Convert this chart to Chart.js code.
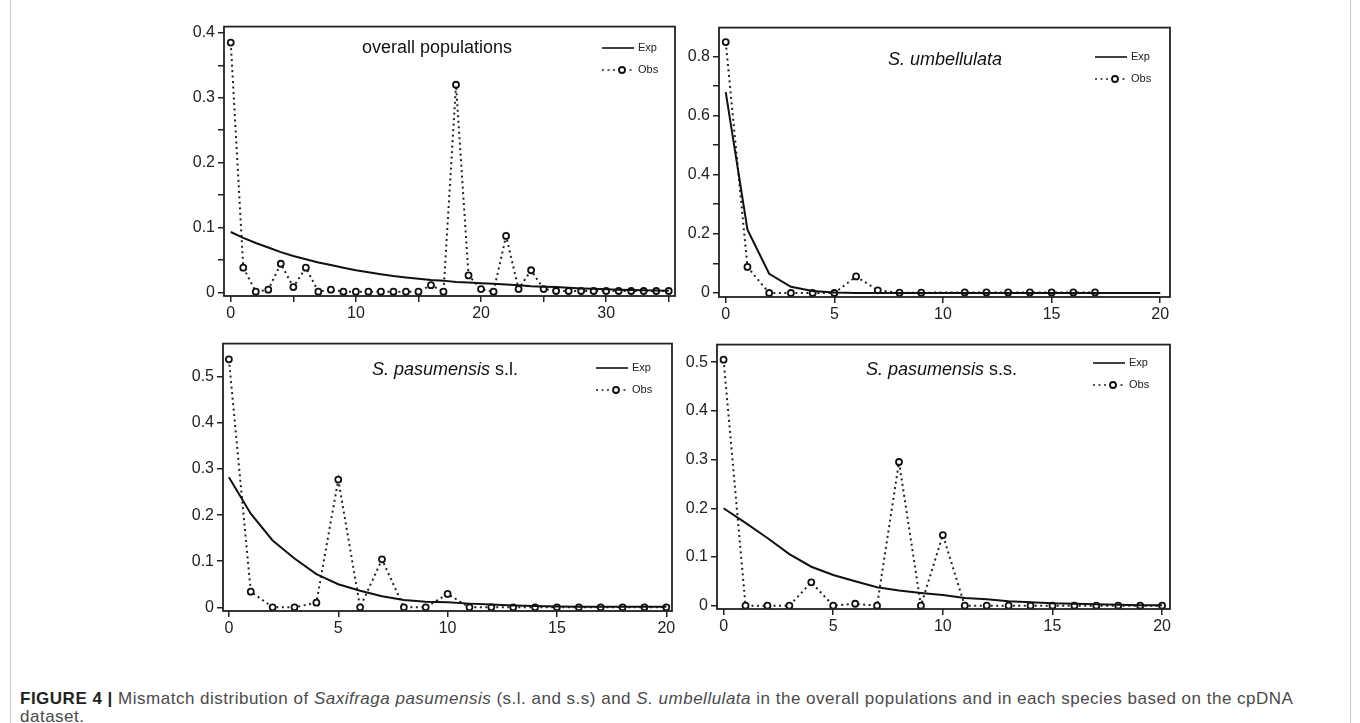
<!DOCTYPE html>
<html>
<head>
<meta charset="utf-8">
<title>Mismatch distribution</title>
<script src="https://cdn.jsdelivr.net/npm/chart.js@4.4.1/dist/chart.umd.min.js"></script>
<style>
  body { margin: 0; background: #fff; }
  #page {
    position: relative; width: 1360px; height: 723px; overflow: hidden;
    font-family: "Liberation Sans", Arial, sans-serif;
  }
  .panel { position: absolute; }
  #frame {
    position: absolute; left: 10px; top: -2px; width: 1339px; height: 740px;
    border-left: 1px solid #c8c8c8; border-right: 1px solid #c8c8c8;
  }
  #caption {
    position: absolute; left: 20px; top: 690px; white-space: nowrap;
    font-size: 17px; letter-spacing: 0.5px; line-height: 18px; color: #4a4a4a;
  }
  #caption b { color: #222; }
</style>
</head>
<body>
<div id="page">
  <div id="frame"></div>
  <canvas id="overall" class="panel"></canvas>
  <canvas id="umbellulata" class="panel"></canvas>
  <canvas id="pasumSl" class="panel"></canvas>
  <canvas id="pasumSs" class="panel"></canvas>
  <div id="caption"><b>FIGURE 4 |</b> Mismatch distribution of <i>Saxifraga pasumensis</i> (s.l. and s.s) and <i>S. umbellulata</i> in the overall populations and in each species based on the cpDNA<br>dataset.</div>
</div>
<script>
// values, index = number of pairwise differences
const overallExp = [0.093, 0.084, 0.076, 0.069, 0.062, 0.056, 0.051, 0.046, 0.042, 0.038,
  0.034, 0.031, 0.028, 0.025, 0.023, 0.021, 0.019, 0.018, 0.016, 0.015,
  0.014, 0.013, 0.012, 0.011, 0.0095, 0.0087, 0.008, 0.007, 0.006, 0.0053,
  0.0046, 0.004, 0.0036, 0.0032, 0.0028, 0.0025];
const overallObs = [0.385, 0.038, 0.001, 0.004, 0.044, 0.008, 0.038, 0.001, 0.004, 0.001,
  0.001, 0.001, 0.001, 0.001, 0.001, 0.001, 0.011, 0.001, 0.320, 0.026,
  0.005, 0.001, 0.087, 0.005, 0.034, 0.005, 0.002, 0.002, 0.002, 0.002,
  0.002, 0.002, 0.002, 0.002, 0.002, 0.002];

const umbellulataExp = [0.679, 0.214, 0.065, 0.021, 0.007, 0.002, 0, 0, 0, 0,
  0, 0, 0, 0, 0, 0, 0, 0, 0, 0, 0];
const umbellulataObs = [0.848, 0.088, 0, 0, 0, 0, 0.056, 0.009, 0.001, 0.001,
  null, 0.002, 0.002, 0.002, 0.002, 0.002, 0.002, 0.002];

const pasumSlExp = [0.282, 0.203, 0.145, 0.106, 0.072, 0.050, 0.036, 0.024, 0.016, 0.012,
  0.011, 0.008, 0.006, 0.004, 0.003, 0.002, 0.001, 0.001, 0.001, 0.001, 0.001];
const pasumSlObs = [0.538, 0.034, 0, 0, 0.010, 0.277, 0, 0.104, 0, 0,
  0.029, 0, 0, 0, 0, 0, 0, 0, 0, 0, 0];

const pasumSsExp = [0.200, 0.170, 0.139, 0.106, 0.080, 0.063, 0.050, 0.038, 0.031, 0.026,
  0.022, 0.016, 0.013, 0.009, 0.007, 0.005, 0.004, 0.003, 0.002, 0.001, 0.001];
const pasumSsObs = [0.505, 0, 0, 0, 0.048, 0, 0.004, 0, 0.295, 0,
  0.145, 0, 0, 0, 0, 0, 0, 0, 0, 0, 0];

// tick values and labels
const overallXTicks = [0, 5, 10, 15, 20, 25, 30, 35];
const overallXLabels = ['0', '', '10', '', '20', '', '30', ''];
const overallYTicks = [0, 0.05, 0.1, 0.15, 0.2, 0.25, 0.3, 0.35, 0.4];
const overallYLabels = ['0', '', '0.1', '', '0.2', '', '0.3', '', '0.4'];

const twentyXTicks = [0, 5, 10, 15, 20];
const twentyXLabels = ['0', '5', '10', '15', '20'];

const umbellulataYTicks = [0, 0.1, 0.2, 0.3, 0.4, 0.5, 0.6, 0.7, 0.8];
const umbellulataYLabels = ['0', '', '0.2', '', '0.4', '', '0.6', '', '0.8'];

const pasumYTicks = [0, 0.1, 0.2, 0.3, 0.4, 0.5];
const pasumYLabels = ['0', '0.1', '0.2', '0.3', '0.4', '0.5'];

const FONT = '"Liberation Sans", Arial, sans-serif';
Chart.defaults.font.family = FONT;
Chart.defaults.color = '#222';

const Y_AXIS_W = 54, X_AXIS_H = 32, PAD_TOP = 12, PAD_RIGHT = 14;

// box around the plot area, in-plot title and the small legend
const panelDecor = {
  id: 'panelDecor',
  afterDraw(chart, args, opts) {
    const ctx = chart.ctx;
    const a = chart.chartArea;
    ctx.save();
    ctx.strokeStyle = '#222';
    ctx.lineWidth = 1.8;
    ctx.strokeRect(a.left, a.top, a.right - a.left, a.bottom - a.top);

    // title
    ctx.fillStyle = '#111';
    ctx.textBaseline = 'alphabetic';
    ctx.textAlign = 'left';
    let tx = opts.titleX;
    opts.title.forEach(part => {
      ctx.font = (part.italic ? 'italic ' : '') + '18px ' + FONT;
      ctx.fillText(part.text, tx, opts.titleY);
      tx += ctx.measureText(part.text).width;
    });

    // legend
    const ds = chart.data.datasets;
    const lx = opts.legendX, ly = opts.legendY;
    ctx.font = '11px ' + FONT;
    ctx.textBaseline = 'middle';
    ds.forEach((d, i) => {
      const y = ly + i * 22;
      ctx.strokeStyle = d.borderColor;
      ctx.lineWidth = 1.6;
      ctx.setLineDash(d.borderDash || []);
      ctx.beginPath();
      ctx.moveTo(lx, y);
      ctx.lineTo(lx + 32, y);
      ctx.stroke();
      ctx.setLineDash([]);
      if (d.pointRadius > 0) {
        ctx.beginPath();
        ctx.arc(lx + 20, y, d.pointRadius, 0, Math.PI * 2);
        ctx.fillStyle = d.pointBackgroundColor;
        ctx.fill();
        ctx.lineWidth = d.pointBorderWidth;
        ctx.strokeStyle = d.pointBorderColor;
        ctx.stroke();
      }
      ctx.fillStyle = '#222';
      ctx.fillText(d.label, lx + 36, y);
    });
    ctx.restore();
  }
};

function axis(min, max, ticks, labels, isX) {
  return {
    type: 'linear',
    min: min,
    max: max,
    afterBuildTicks: s => { s.ticks = ticks.map(v => ({ value: v })); },
    afterFit: s => { if (isX) s.height = X_AXIS_H; else s.width = Y_AXIS_W; },
    grid: { display: true, drawOnChartArea: false, drawTicks: true, tickLength: 6, color: '#222', lineWidth: 1.5 },
    border: { display: false },
    ticks: {
      font: { size: 16 },
      color: '#222',
      padding: isX ? 2 : 3,
      autoSkip: false,
      maxRotation: 0,
      callback: (v, i) => labels[i]
    }
  };
}

function makePanel(id, p) {
  const canvas = document.getElementById(id);
  const w = p.right - p.left + Y_AXIS_W + PAD_RIGHT;
  const h = p.bottom - p.top + PAD_TOP + X_AXIS_H;
  const cx = p.left - Y_AXIS_W, cy = p.top - PAD_TOP;
  canvas.width = w; canvas.height = h;
  canvas.style.width = w + 'px'; canvas.style.height = h + 'px';
  canvas.style.left = cx + 'px'; canvas.style.top = cy + 'px';

  new Chart(canvas, {
    type: 'line',
    data: {
      datasets: [{
        label: 'Exp',
        data: p.exp.map((v, i) => ({ x: i, y: v })),
        borderColor: '#111',
        borderWidth: 2,
        pointRadius: 0,
        tension: 0
      }, {
        label: 'Obs',
        data: p.obs.map((v, i) => ({ x: i, y: v })),
        borderColor: '#222',
        borderWidth: 2,
        borderDash: [2, 3.5],
        pointRadius: 3,
        pointBorderWidth: 1.8,
        pointBackgroundColor: '#fff',
        pointBorderColor: '#111',
        spanGaps: true,
        tension: 0
      }]
    },
    options: {
      responsive: false,
      animation: false,
      layout: { padding: { top: PAD_TOP, right: PAD_RIGHT, left: 0, bottom: 0 } },
      plugins: {
        legend: { display: false },
        tooltip: { enabled: false },
        panelDecor: {
          title: p.title,
          titleX: p.titleX - cx, titleY: p.titleY - cy,
          legendX: p.legendX - cx, legendY: p.legendY - cy
        }
      },
      scales: {
        x: axis(p.xMin, p.xMax, p.xTicks, p.xLabels, true),
        y: axis(p.yMin, p.yMax, p.yTicks, p.yLabels, false)
      }
    },
    plugins: [panelDecor]
  });
}

makePanel('overall', {
  left: 224, top: 26, right: 675, bottom: 296,
  xMin: -0.54, xMax: 35.5, yMin: -0.0057, yMax: 0.4097,
  xTicks: overallXTicks, xLabels: overallXLabels,
  yTicks: overallYTicks, yLabels: overallYLabels,
  exp: overallExp, obs: overallObs,
  title: [{ text: 'overall populations' }], titleX: 362, titleY: 53,
  legendX: 602, legendY: 48
});

makePanel('umbellulata', {
  left: 719, top: 27, right: 1170, bottom: 297,
  xMin: -0.31, xMax: 20.45, yMin: -0.0135, yMax: 0.897,
  xTicks: twentyXTicks, xLabels: twentyXLabels,
  yTicks: umbellulataYTicks, yLabels: umbellulataYLabels,
  exp: umbellulataExp, obs: umbellulataObs,
  title: [{ text: 'S. umbellulata', italic: true }], titleX: 888, titleY: 65,
  legendX: 1095, legendY: 57
});

makePanel('pasumSl', {
  left: 223, top: 343, right: 672, bottom: 611,
  xMin: -0.27, xMax: 20.26, yMin: -0.008, yMax: 0.572,
  xTicks: twentyXTicks, xLabels: twentyXLabels,
  yTicks: pasumYTicks, yLabels: pasumYLabels,
  exp: pasumSlExp, obs: pasumSlObs,
  title: [{ text: 'S. pasumensis', italic: true }, { text: ' s.l.' }], titleX: 372, titleY: 375,
  legendX: 596, legendY: 368
});

makePanel('pasumSs', {
  left: 717, top: 344, right: 1170, bottom: 609,
  xMin: -0.3, xMax: 20.36, yMin: -0.0068, yMax: 0.536,
  xTicks: twentyXTicks, xLabels: twentyXLabels,
  yTicks: pasumYTicks, yLabels: pasumYLabels,
  exp: pasumSsExp, obs: pasumSsObs,
  title: [{ text: 'S. pasumensis', italic: true }, { text: ' s.s.' }], titleX: 866, titleY: 375,
  legendX: 1093, legendY: 363
});
</script>
</body>
</html>
